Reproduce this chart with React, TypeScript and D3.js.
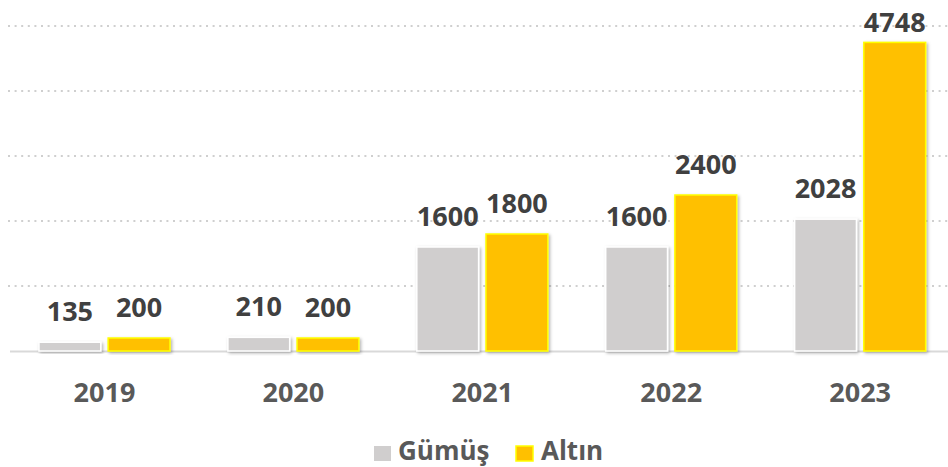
import React from "react";
import * as d3 from "d3";

const years = ["2019", "2020", "2021", "2022", "2023"];
const seriesNames = ["Gümüş", "Altın"];
const silver = [135, 210, 1600, 1600, 2028];
const gold = [200, 200, 1800, 2400, 4748];
const yTicks = [1000, 2000, 3000, 4000, 5000];

const W = 948;
const H = 467;
const FONT = "'Open Sans', 'Liberation Sans', sans-serif";
const fills = ["#D0CECE", "#FFC000"];
const strokes = ["#FFFFFF", "#FFFF00"];

export default function App() {
  const x = d3.scaleBand<string>().domain(years).range([10, 954.6]).padding(0);
  const y = d3.scaleLinear().domain([0, 5000]).range([351, 26]);
  const groupW = 131;
  const inner = d3
    .scaleBand<string>()
    .domain(seriesNames)
    .range([0, groupW])
    .paddingInner(14 / 131);
  const series = [silver, gold];

  return (
    <svg
      width={W}
      height={H}
      style={{ position: "absolute", left: 0, top: 0, background: "#fff" }}
    >
      <defs>
        <filter id="sh" x="-20%" y="-20%" width="150%" height="150%">
          <feDropShadow dx="1.5" dy="1.5" stdDeviation="1.5" floodColor="#000" floodOpacity="0.3" />
        </filter>
      </defs>
      {yTicks.map((t) => (
        <line
          key={t}
          x1={8}
          x2={W}
          y1={y(t)}
          y2={y(t)}
          stroke="#CFCFCF"
          strokeWidth={2}
          strokeDasharray="2 4.6"
        />
      ))}
      <line x1={10} x2={W} y1={y(0) + 0.5} y2={y(0) + 0.5} stroke="#D9D9D9" strokeWidth={2} />
      {years.map((yr, i) => {
        const cx = (x(yr) as number) + x.bandwidth() / 2;
        const g0 = cx - groupW / 2;
        return (
          <g key={yr}>
            {series.map((s, j) => {
              const bx = g0 + (inner(seriesNames[j]) as number);
              const bw = inner.bandwidth();
              const top = y(s[i]);
              const ly = Math.max(top - 21, 32);
              return (
                <g key={j}>
                  <rect
                    x={bx}
                    y={top}
                    width={bw}
                    height={y(0) - top}
                    fill={fills[j]}
                    stroke={strokes[j]}
                    strokeWidth={1.5}
                    filter="url(#sh)"
                  />
                  <text
                    x={bx + bw / 2}
                    y={ly}
                    textAnchor="middle"
                    fontFamily={FONT}
                    fontWeight={700}
                    fontSize={27}
                    fill="#404040"
                  >
                    {s[i]}
                  </text>
                </g>
              );
            })}
            <text
              x={cx}
              y={402}
              textAnchor="middle"
              fontFamily={FONT}
              fontWeight={700}
              fontSize={27}
              fill="#595959"
            >
              {yr}
            </text>
          </g>
        );
      })}
      <g>
        <rect x={374} y={446} width={17} height={15} fill={fills[0]} />
        <text x={398} y={460} fontFamily={FONT} fontWeight={700} fontSize={26} fill="#595959">
          {seriesNames[0]}
        </text>
        <rect x={516} y={446} width={17} height={15} fill={fills[1]} stroke={strokes[1]} strokeWidth={1.5} />
        <text x={541} y={460} fontFamily={FONT} fontWeight={700} fontSize={26} fill="#595959">
          {seriesNames[1]}
        </text>
      </g>
    </svg>
  );
}
